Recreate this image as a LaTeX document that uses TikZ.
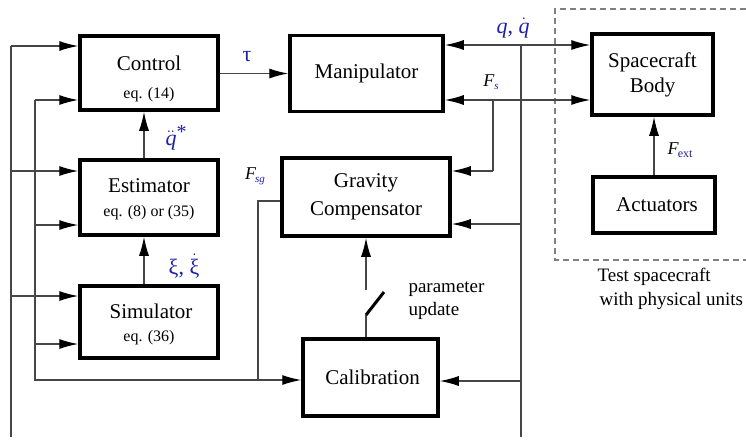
\documentclass[tikz,border=0pt]{standalone}
\usepackage{fontspec}
\setmainfont{Liberation Serif}
\usetikzlibrary{arrows.meta}
\definecolor{lblue}{RGB}{30,30,170}
\definecolor{lgray}{RGB}{70,70,70}
\begin{document}
\begin{tikzpicture}[x=1pt,y=-1pt,
  blk/.style={draw=black,line width=3.5pt,rectangle,inner sep=0pt,align=center,
    font=\fontsize{21}{26}\selectfont},
  arr/.style={draw=lgray,line width=1.3pt,-{Latex[length=19pt,width=10pt,color=black]}},
  arrtwo/.style={draw=lgray,line width=1.3pt,{Latex[length=19pt,width=10pt,color=black]}-{Latex[length=19pt,width=10pt,color=black]}},
  ln/.style={draw=lgray,line width=1.3pt},
  side/.style={font=\fontsize{19}{23}\selectfont,align=left},
  bl/.style={text=lblue,font=\fontsize{22}{26}\selectfont}
]
\useasboundingbox (0,0) rectangle (746,440);

% dashed enclosure
\draw[dashed,draw=gray,line width=1.2pt,dash pattern=on 6pt off 4pt] (746,9) -- (555,9) -- (555,260) -- (746,260);

% blocks
\node[blk,minimum width=138pt,minimum height=74pt] (ctrl) at (149,73) {};
\node at (149,63) {\fontsize{21}{24}\selectfont Control};
\node at (149,95) {\fontsize{16}{20}\selectfont eq. (14)};
\node[blk,minimum width=153pt,minimum height=76pt] (man) at (366.5,73.5) {Manipulator};
\node[blk,minimum width=121pt,minimum height=81pt] (sc) at (652.5,74.5) {Spacecraft\\[-1pt]Body};
\node[blk,minimum width=122pt,minimum height=56pt] (act) at (654,205) {\hspace*{6pt}Actuators};
\node[blk,minimum width=138pt,minimum height=75pt] (est) at (149,197.5) {};
\node at (149,186) {\fontsize{21}{24}\selectfont Estimator};
\node at (149,213) {\fontsize{16}{20}\selectfont eq. (8) or (35)};
\node[blk,minimum width=138pt,minimum height=72pt] (sim) at (149,322) {};
\node at (151,311) {\fontsize{21}{24}\selectfont Simulator};
\node at (149,338) {\fontsize{16}{20}\selectfont eq. (36)};
\node[blk,minimum width=168pt,minimum height=78pt] (gc) at (366,197) {Gravity\\[2pt]Compensator};
\node[blk,minimum width=135pt,minimum height=77pt] (cal) at (370.5,377.5) {\hspace*{4pt}Calibration};

% bus coordinates
\coordinate (L1t) at (11,46);
\coordinate (L1b) at (11,437);
\coordinate (L2t) at (35,100);
\coordinate (L2b) at (35,380);
\coordinate (R1t) at (521,45);
\coordinate (R1b) at (521,437);
\coordinate (Fs) at (493,100);
\coordinate (Fsc) at (493,171);
\coordinate (Fsg) at (258,201);
\coordinate (Fsgb) at (258,380);
\coordinate (e1) at (11,171);
\coordinate (e2) at (35,225);
\coordinate (s1) at (11,296);
\coordinate (s2) at (35,344);
\coordinate (g2) at (521,224);
\coordinate (c2) at (521,381);
\coordinate (vx) at (144,0);
\coordinate (sw1) at (366,315);
\coordinate (sw2) at (384,292);
\coordinate (sw3) at (366,290);

% left buses
\draw[ln] (L1t) -- (L1b);
\draw[arr] (L1t) -- (L1t -| ctrl.west);
\draw[arr] (e1) -- (e1 -| est.west);
\draw[arr] (s1) -- (s1 -| sim.west);
\draw[arr] (L2t) -- (L2t -| ctrl.west);
\draw[arr] (e2) -- (e2 -| est.west);
\draw[arr] (s2) -- (s2 -| sim.west);
\draw[arr] (L2t) -- (L2b) -- (L2b -| cal.west);
\draw[ln] (Fsg -| gc.west) -- (Fsg) -- (Fsgb);

% vertical signal chain
\draw[arr] (vx |- est.north) -- (vx |- ctrl.south);
\draw[arr] (vx |- sim.north) -- (vx |- est.south);
\draw[arr] (ctrl.east |- man.west) -- (man.west);

% right side
\draw[arrtwo] (R1t -| man.east) -- (R1t -| sc.west);
\draw[arrtwo] (Fs -| man.east) -- (Fs -| sc.west);
\draw[ln] (R1t) -- (R1b);
\draw[ln] (Fs) -- (Fsc);
\draw[arr] (Fsc) -- (Fsc -| gc.east);
\draw[arr] (g2) -- (g2 -| gc.east);
\draw[arr] (c2) -- (c2 -| cal.east);
\draw[arr] (act.north) -- (act.north |- sc.south);

% parameter update switch
\draw[ln] (sw1 |- cal.north) -- (sw1);
\draw[line width=3pt] (sw1) -- (sw2);
\draw[arr] (sw3) -- (sw3 |- gc.south);

% labels
\node[bl] (tau) at (247,57) {τ};
\node[bl] (qdd) at (176,138) {$\ddot{\hbox{\itshape q}}$\raisebox{7pt}{\fontsize{20}{20}\selectfont *}};
\node[bl] (qqd) at (513,28) {\textit{q}, $\dot{\hbox{\itshape q}}$};
\node[bl] (xi) at (184,266) {ξ, $\dot{\hbox{ξ}}$};
\node (fs) at (491,82) {\fontsize{18}{20}\selectfont\textit{F}\raisebox{-3pt}{\fontsize{11}{12}\selectfont\textcolor{lblue}{\textit{s}}}};
\node (fsg) at (255,176) {\fontsize{18}{20}\selectfont\textit{F}\kern-1pt\raisebox{-3pt}{\fontsize{11}{12}\selectfont\textcolor{lblue}{\textit{sg}}}};
\node (fext) at (680,150) {\fontsize{18}{20}\selectfont\textit{F}\kern-1pt\raisebox{-3pt}{\fontsize{12}{12}\selectfont\textcolor{lblue}{ext}}};
\node[side,anchor=west] (pu) at (405,301) {parameter\\update};
\node[side,anchor=west] (ts) at (594,289) {Test spacecraft\\[1pt]\hspace*{2pt}with physical units};
\end{tikzpicture}
\end{document}
